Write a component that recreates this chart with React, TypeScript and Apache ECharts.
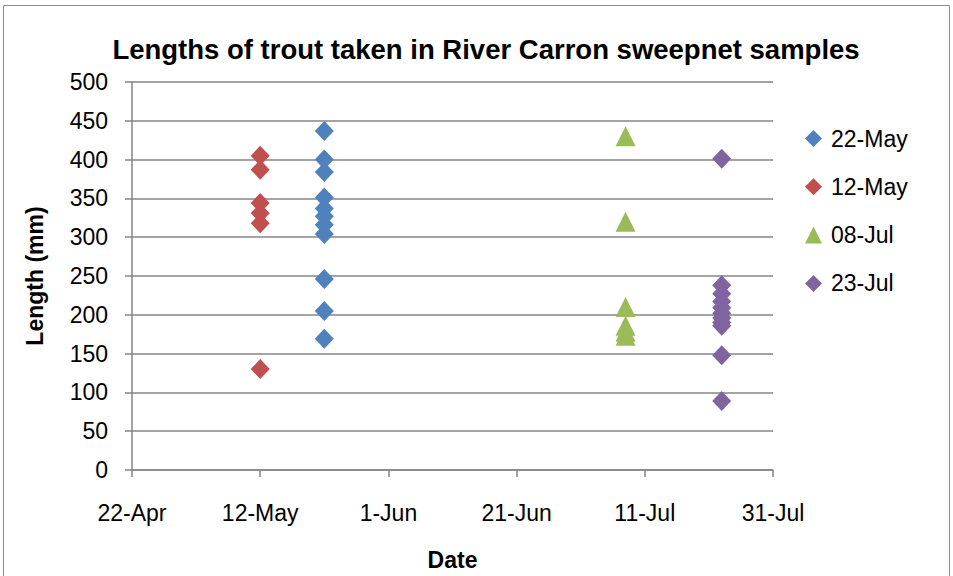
import React, { useEffect, useRef } from "react";
import * as echarts from "echarts";

const AXIS_START = "2010-04-22";
const X_TICK_LABELS = ["22-Apr", "12-May", "1-Jun", "21-Jun", "11-Jul", "31-Jul"];
const SERIES_NAMES = ["22-May", "12-May", "08-Jul", "23-Jul"];
const SERIES_DATES = ["2010-05-22", "2010-05-12", "2010-07-08", "2010-07-23"];
const SERIES_SYMBOLS = ["diamond", "diamond", "triangle", "diamond"];
const SERIES_COLORS = ["#4F81BD", "#C0504D", "#9BBB59", "#8064A2"];

const may22 = [437, 400, 384, 351, 337, 327, 316, 304, 246, 205, 169];
const may12 = [405, 387, 344, 331, 318, 130];
const jul08 = [430, 320, 210, 186, 178, 173];
const jul23 = [401, 238, 227, 217, 209, 202, 196, 190, 186, 148, 89];
const SERIES_VALUES = [may22, may12, jul08, jul23];

const dayOffset = (d: string) =>
  Math.round((Date.parse(d) - Date.parse(AXIS_START)) / 86400000);

const FONT = "'Liberation Sans', 'DejaVu Sans', sans-serif";

export default function App() {
  const ref = useRef<HTMLDivElement>(null);
  useEffect(() => {
    if (!ref.current) return;
    const chart = echarts.init(ref.current, null, { renderer: "svg" });
    chart.setOption({
      animation: false,
      backgroundColor: "#ffffff",
      textStyle: { fontFamily: FONT },
      graphic: [
        {
          type: "rect",
          shape: { x: 3.5, y: 5.5, width: 946, height: 600 },
          style: { fill: "none", stroke: "#8c8c8c", lineWidth: 1 },
          silent: true,
          z: -10,
        },
        {
          type: "text",
          x: 486,
          y: 49,
          style: {
            text: "Lengths of trout taken in River Carron sweepnet samples",
            fontFamily: FONT,
            fontWeight: "bold",
            fontSize: 27.5,
            fill: "#000",
            textAlign: "center",
            textVerticalAlign: "middle",
          },
        },
      ],
      legend: {
        orient: "vertical",
        left: 800,
        top: 122,
        itemWidth: 17,
        itemHeight: 17,
        itemGap: 25.3,
        textStyle: { fontFamily: FONT, fontSize: 23, color: "#000", padding: [0, 0, 0, 4] },
        data: SERIES_NAMES.map((n, i) => ({ name: n, icon: SERIES_SYMBOLS[i] })),
      },
      grid: {
        left: 132,
        top: 82,
        width: 641,
        height: 388,
        containLabel: false,
        outerBoundsMode: "none",
      },
      xAxis: {
        type: "value",
        min: 0,
        max: 100,
        interval: 20,
        name: "Date",
        nameLocation: "middle",
        nameGap: 78,
        nameTextStyle: { fontFamily: FONT, fontWeight: "bold", fontSize: 23, color: "#000" },
        axisLine: { show: true, lineStyle: { color: "#868686", width: 1.5 } },
        axisTick: { show: true, inside: false, length: 7, lineStyle: { color: "#868686", width: 1.5 } },
        axisLabel: {
          margin: 31,
          fontFamily: FONT,
          fontSize: 23,
          color: "#000",
          formatter: (v: number) => X_TICK_LABELS[Math.round(v / 20)] ?? "",
        },
        splitLine: { show: false },
      },
      yAxis: {
        type: "value",
        min: 0,
        max: 500,
        interval: 50,
        name: "Length (mm)",
        nameLocation: "middle",
        nameRotate: 90,
        nameGap: 86,
        nameTextStyle: { fontFamily: FONT, fontWeight: "bold", fontSize: 23, color: "#000" },
        axisLine: { show: true, lineStyle: { color: "#868686", width: 1.5 } },
        axisTick: { show: true, inside: false, length: 7, lineStyle: { color: "#868686", width: 1.5 } },
        axisLabel: { margin: 24, fontFamily: FONT, fontSize: 23, color: "#000" },
        splitLine: { show: true, lineStyle: { color: "#868686", width: 1.5 } },
      },
      series: SERIES_NAMES.map((name, i) => ({
        name,
        type: "scatter",
        symbol: SERIES_SYMBOLS[i],
        symbolSize: SERIES_SYMBOLS[i] === "triangle" ? [20, 20] : [19, 20],
        itemStyle: { color: SERIES_COLORS[i], opacity: 1 },
        data: SERIES_VALUES[i].map((v) => [dayOffset(SERIES_DATES[i]), v]),
      })),
    });
    return () => chart.dispose();
  }, []);
  return (
    <div
      ref={ref}
      style={{ position: "fixed", left: 0, top: 0, width: 953, height: 576 }}
    />
  );
}
